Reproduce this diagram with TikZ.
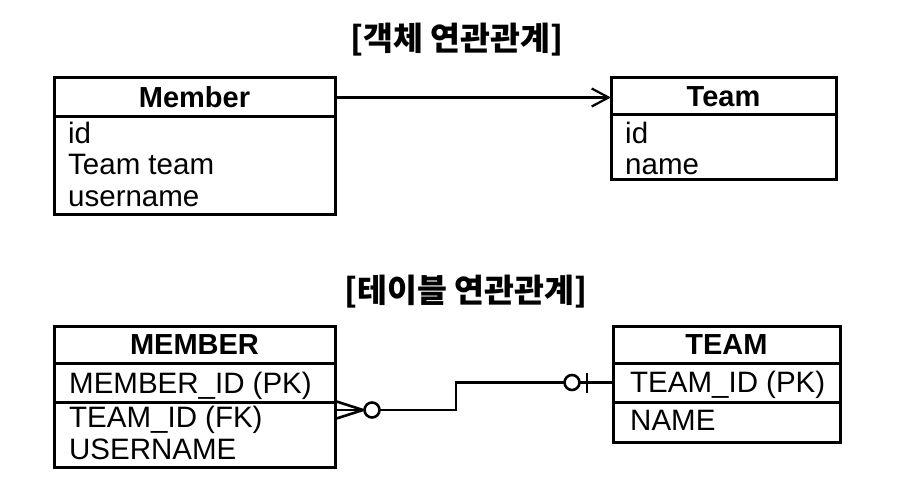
\documentclass[tikz,border=0pt]{standalone}
\usepackage{fontspec}
\setmainfont{Liberation Sans}
\newfontfamily\krfont{Noto Sans CJK KR}
\usetikzlibrary{positioning,arrows.meta}

\tikzset{
  ent/.style={draw, line width=3pt, outer sep=0pt, inner sep=0pt, minimum width=#1},
  hdr/.style={ent=#1, font=\fontsize{29}{29}\selectfont\bfseries},
  fld/.style={anchor=base west, inner sep=0pt, font=\fontsize{29.5}{29.5}\selectfont},
  title/.style={font=\krfont\fontsize{32.5}{32.5}\selectfont\bfseries},
  link/.style={line width=2.6pt},
}

\begin{document}
\begin{tikzpicture}[x=1pt,y=-1pt]
\useasboundingbox (0,0) rectangle (908,500);
% object model
\node[title] (objT) at (457,40) {[객체 연관관계]};
\node[hdr=281pt, minimum height=39pt] (mH) at (194.5,97.5) {Member};
\node[ent=281pt, minimum height=97pt, below=0pt of mH] (mB) {};
\node[fld] (mId) at (68,144) {id};
\node[fld] (mTeam) at (68,175) {Team team};
\node[fld] (mName) at (68,206) {username};
\node[hdr=225pt, minimum height=37pt] (tH) at (723.5,96.5) {Team};
\node[ent=225pt, minimum height=65pt, below=0pt of tH] (tB) {};
\node[fld] (tId) at (625,144) {id};
\node[fld] (tName) at (625,175) {name};
\draw[line width=2.2pt, -{Straight Barb[length=17pt,width=18pt]}] (mH.east) -- (mH.east -| tH.west);
% table model
\node[title] (tabT) at (466,292) {[테이블 연관관계]};
\node[hdr=281pt, minimum height=37pt] (MH) at (194.5,344.5) {MEMBER};
\node[ent=281pt, minimum height=39pt, below=0pt of MH] (mPK) {};
\node[ent=281pt, minimum height=65pt, below=0pt of mPK] (mFK) {};
\node[fld] (mIdCol) at (69,393) {MEMBER\_ID (PK)};
\node[fld] (mTeamCol) at (69,427) {TEAM\_ID (FK)};
\node[fld] (mNameCol) at (69,459) {USERNAME};
\node[hdr=227pt, minimum height=37pt] (TH) at (726.5,344.5) {TEAM};
\node[ent=227pt, minimum height=39pt, below=0pt of TH] (tPK) {};
\node[ent=227pt, minimum height=40pt, below=0pt of tPK] (tNm) {};
\node[fld] (tIdCol) at (630,392) {TEAM\_ID (PK)};
\node[fld] (tNameCol) at (630,430) {NAME};
\coordinate (fk) at ([yshift=-8pt]mFK.north east);
\coordinate (pk) at (tPK.west);
\draw[link] (fk) -- ++(121,0) |- (pk);
\draw[link] (fk) ++(0,-9) -- ++(28,9) -- ++(-28,9);
\draw[link, fill=white] (fk) ++(37,0) circle[radius=7.5pt];
\draw[link, fill=white] (pk) ++(-41,0) circle[radius=7.5pt];
\draw[link] (pk) ++(-26,-10) -- ++(0,20);
\end{tikzpicture}
\end{document}
